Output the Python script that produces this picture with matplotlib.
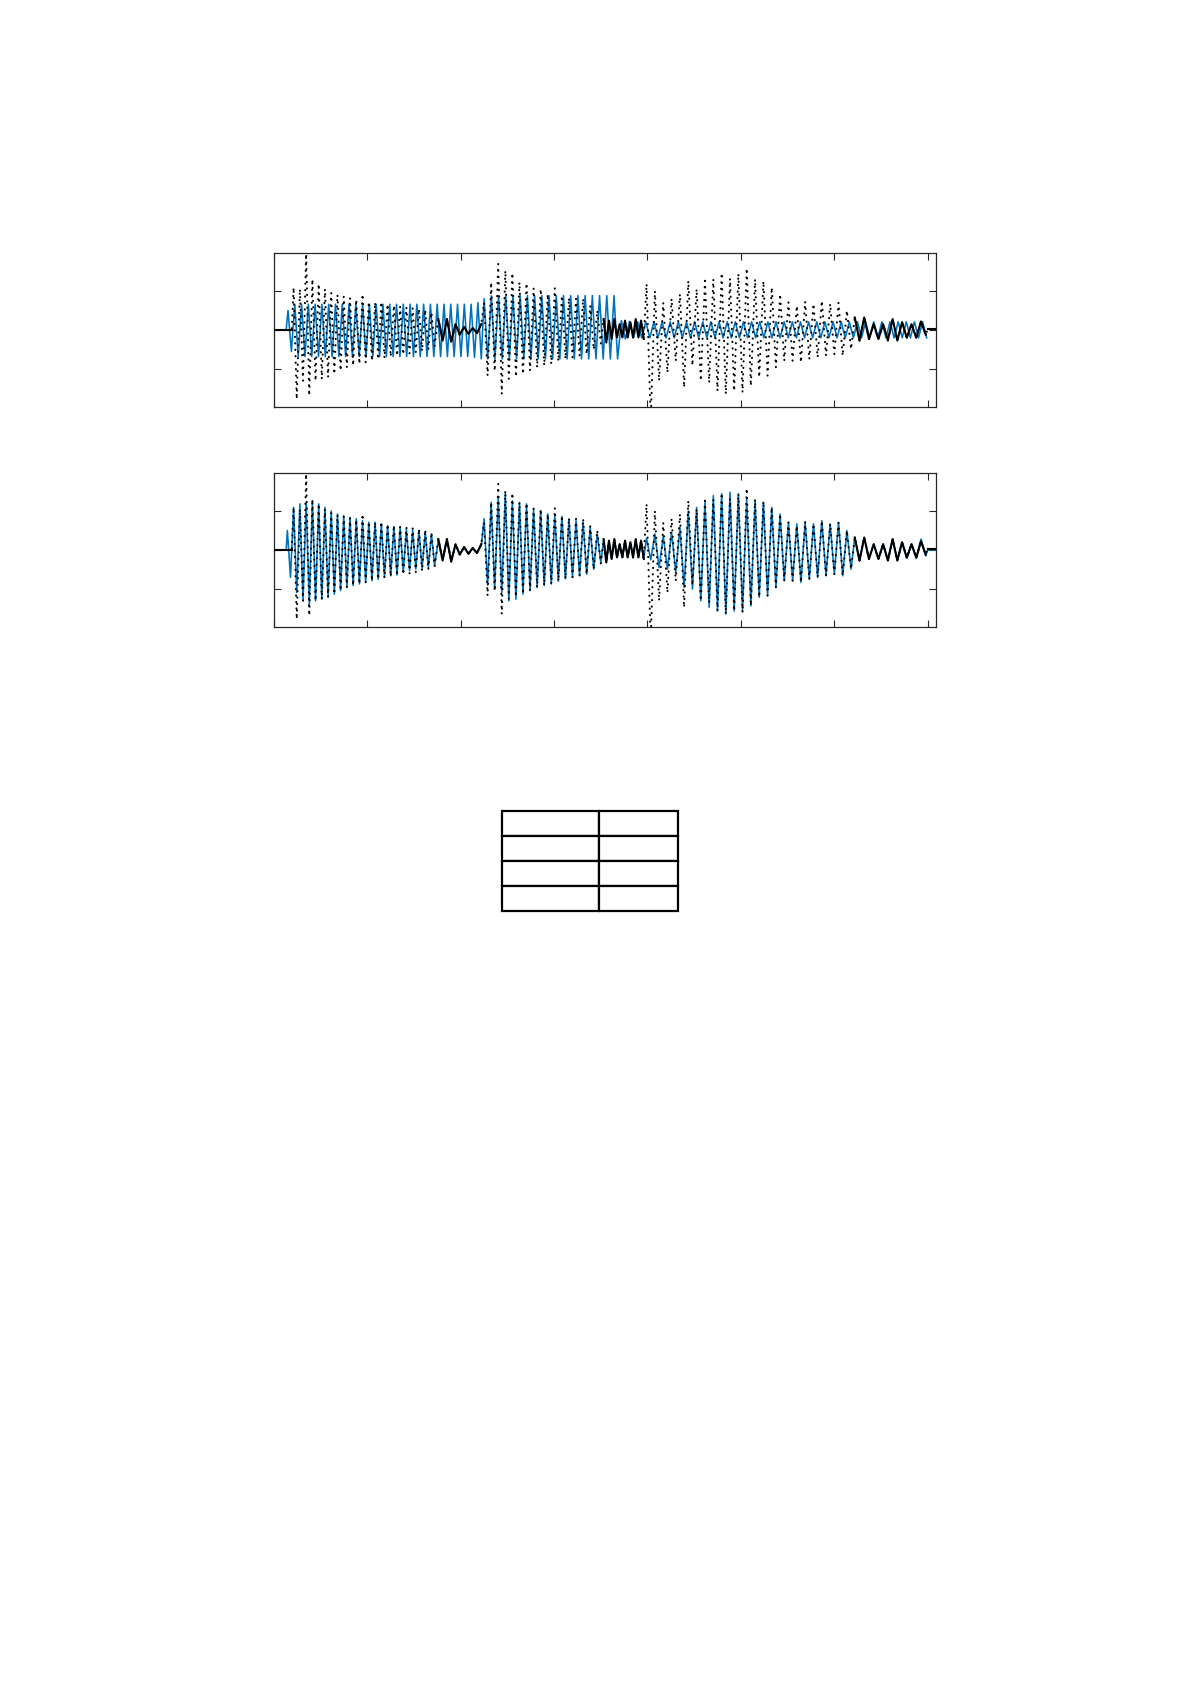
import numpy as np
import matplotlib
matplotlib.use("Agg")
import matplotlib.pyplot as plt

BLUE = "#0072BD"
FRAME = "#262626"

# --- measured signal (black dots), same in both panels ---
# each part: time span, then the peak / trough values read off the picture
black_flat0_span = (0.00, 0.19)
black_flat0 = [0.0, 0.0]

black_a_span = (0.21, 1.72)
black_a_up = [1.09, 1.05, 1.95, 1.30, 1.18, 1.05, 0.95, 0.90, 0.86, 0.82, 0.78, 0.92,
              0.72, 0.71, 0.72, 0.66, 0.63, 0.60, 0.58, 0.56, 0.54, 0.52, 0.45]
black_a_dn = [-1.77, -1.30, -1.68, -1.30, -1.26, -1.21, -1.13, -1.04, -0.96, -0.91, -0.87, -0.83,
              -0.79, -0.75, -0.72, -0.68, -0.66, -0.63, -0.60, -0.57, -0.54, -0.50, -0.42]
black_a_wob_span = (1.76, 2.22)
black_a_wob = [0.28, -0.27, 0.28, -0.30, 0.15, -0.12, 0.08, -0.10, 0.05, -0.08, 0.15]

black_b_span = (2.25, 3.50)
black_b_up = [0.70, 1.22, 1.69, 1.52, 1.46, 1.22, 1.20, 1.07, 1.05, 0.92, 1.07, 0.88,
              0.82, 0.80, 0.80, 0.62, 0.50]
black_b_dn = [-1.17, -1.05, -1.64, -1.25, -1.20, -1.13, -1.04, -0.96, -0.91, -0.87, -0.80, -0.74,
              -0.70, -0.66, -0.62, -0.50, -0.35]
black_b_wob_span = (3.53, 3.96)
black_b_wob_up = [0.28, 0.24, 0.28, 0.15, 0.24, 0.20, 0.28, 0.24]
black_b_wob_dn = [-0.32, -0.23, -0.19, -0.19, -0.19, -0.19, -0.19, -0.23]

black_c_span = (3.99, 6.18)
black_c_up = [1.18, 1.00, 0.70, 0.80, 0.92, 1.26, 1.05, 1.26, 1.30, 1.46, 1.32, 1.44, 1.58,
              1.30, 1.25, 1.09, 0.92, 0.71, 0.62, 0.73, 0.67, 0.75, 0.67, 0.70, 0.50]
black_c_dn = [-2.30, -1.30, -1.09, -0.79, -1.47, -0.91, -1.30, -1.35, -1.56, -1.64, -1.56, -1.60, -1.43,
              -1.21, -1.17, -0.96, -0.79, -0.79, -0.83, -0.75, -0.70, -0.66, -0.62, -0.66, -0.49]
black_c_wob_span = (6.22, 6.98)
black_c_wob_up = [0.32, 0.32, 0.15, 0.15, 0.28, 0.20, 0.15, 0.22]
black_c_wob_dn = [-0.27, -0.23, -0.23, -0.27, -0.27, -0.20, -0.20, -0.12]
black_end_span = (7.00, 7.09)
black_end = [0.02, 0.02]

# --- model 1 (top panel, blue) ---
blue1_flat_span = (0.00, 0.13)
blue1_flat = [0.0, 0.0]
blue1_a_span = (0.15, 2.22)
blue1_a_up = [0.50, 0.66, 0.66, 0.66, 0.66, 0.66, 0.66, 0.66, 0.66, 0.66, 0.66, 0.66, 0.66, 0.66, 0.66,
              0.66, 0.66, 0.66, 0.66, 0.66, 0.66, 0.66, 0.66, 0.66, 0.66, 0.66, 0.66, 0.66, 0.70]
blue1_a_dn = [-0.55, -0.68, -0.68, -0.68, -0.68, -0.68, -0.68, -0.68, -0.68, -0.68, -0.68, -0.68, -0.68,
              -0.68, -0.68, -0.68, -0.68, -0.68, -0.68, -0.68, -0.68, -0.68, -0.68, -0.68, -0.68, -0.68,
              -0.68, -0.70, -0.74]
blue1_b_span = (2.25, 3.68)
blue1_b_up = [0.80, 0.88, 0.88, 0.88, 0.88, 0.88, 0.88, 0.88, 0.88, 0.88, 0.88, 0.88, 0.88, 0.88,
              0.88, 0.88, 0.88, 0.88, 0.88]
blue1_b_dn = [-0.74, -0.74, -0.74, -0.74, -0.74, -0.74, -0.74, -0.74, -0.74, -0.74, -0.74, -0.74,
              -0.74, -0.74, -0.74, -0.74, -0.74, -0.74, -0.74]
blue1_c_span = (3.72, 6.99)
blue1_c_up = [0.24, 0.22, 0.21, 0.21, 0.21, 0.21, 0.21, 0.21, 0.21, 0.21, 0.21, 0.21, 0.21,
              0.21, 0.21, 0.21, 0.21, 0.21, 0.21, 0.21, 0.21, 0.21, 0.21, 0.21, 0.21, 0.21,
              0.21, 0.21, 0.21, 0.21, 0.21, 0.21, 0.21, 0.21, 0.21, 0.21, 0.21, 0.21]
blue1_c_dn = [-0.23, -0.20, -0.20, -0.20, -0.20, -0.20, -0.20, -0.20, -0.20, -0.20, -0.20, -0.20, -0.20,
              -0.20, -0.20, -0.20, -0.20, -0.20, -0.20, -0.20, -0.20, -0.20, -0.20, -0.20, -0.20, -0.20,
              -0.20, -0.20, -0.20, -0.20, -0.20, -0.20, -0.20, -0.20, -0.20, -0.20, -0.20, -0.20]

# --- model 2 (bottom panel, blue) ---
blue2_flat_span = (0.00, 0.13)
blue2_flat = [0.0, 0.0]
blue2_a_span = (0.143, 1.72)
blue2_a_up = [0.50, 1.09, 1.18, 1.22, 1.26, 1.18, 1.09, 1.00, 0.92, 0.88, 0.84, 0.80,
              0.75, 0.71, 0.71, 0.67, 0.62, 0.60, 0.58, 0.53, 0.51, 0.50, 0.45, 0.41]
blue2_a_dn = [-0.70, -1.09, -1.30, -1.38, -1.30, -1.26, -1.21, -1.13, -1.04, -0.96, -0.91, -0.87,
              -0.83, -0.79, -0.75, -0.70, -0.66, -0.64, -0.57, -0.53, -0.49, -0.47, -0.45, -0.40]
blue2_a_wob = [0.25, -0.22, 0.25, -0.25, 0.12, -0.10, 0.07, -0.08, 0.04, -0.06, 0.12]
blue2_b_up = [0.80, 1.22, 1.35, 1.44, 1.26, 1.22, 1.18, 1.05, 1.00, 0.92, 0.88, 0.86,
              0.79, 0.75, 0.71, 0.58, 0.41]
blue2_b_dn = [-0.90, -1.00, -1.09, -1.30, -1.26, -1.13, -1.04, -0.96, -0.91, -0.87, -0.80, -0.74,
              -0.70, -0.66, -0.62, -0.49, -0.32]
blue2_b_wob_up = [0.25, 0.22, 0.25, 0.15, 0.22, 0.18, 0.25, 0.22]
blue2_b_wob_dn = [-0.28, -0.22, -0.18, -0.18, -0.18, -0.18, -0.18, -0.22]
blue2_c_up = [0.30, 0.41, 0.35, 0.45, 0.58, 1.00, 1.09, 1.22, 1.39, 1.44, 1.48, 1.44, 1.30,
              1.26, 1.22, 1.09, 0.92, 0.71, 0.67, 0.71, 0.67, 0.75, 0.67, 0.71, 0.50]
blue2_c_dn = [-0.25, -0.45, -0.49, -0.58, -0.96, -1.00, -1.30, -1.47, -1.56, -1.64, -1.56, -1.56, -1.43,
              -1.21, -1.17, -0.96, -0.79, -0.79, -0.83, -0.75, -0.70, -0.66, -0.62, -0.66, -0.49]
blue2_c_wob_up = [0.32, 0.32, 0.15, 0.15, 0.28, 0.20, 0.15, 0.28]
blue2_c_wob_dn = [-0.27, -0.23, -0.23, -0.27, -0.27, -0.20, -0.20, -0.15]
blue2_end = [0.0, 0.0]

# empty 4x2 table under the plots
table_cells = [["", ""], ["", ""], ["", ""], ["", ""]]


def weave(ups, dns):
    out = []
    for u, d in zip(ups, dns):
        out += [u, d]
    return out


def build(parts):
    xs, ys = [], []
    for (a, b), vals in parts:
        xs.append(np.linspace(a, b, len(vals)))
        ys.append(np.asarray(vals, dtype=float))
    return np.concatenate(xs), np.concatenate(ys)


black_parts = [
    (black_flat0_span, black_flat0),
    (black_a_span, weave(black_a_up, black_a_dn)),
    (black_a_wob_span, black_a_wob),
    (black_b_span, weave(black_b_up, black_b_dn)),
    (black_b_wob_span, weave(black_b_wob_up, black_b_wob_dn)),
    (black_c_span, weave(black_c_up, black_c_dn)),
    (black_c_wob_span, weave(black_c_wob_up, black_c_wob_dn)),
    (black_end_span, black_end),
]
# the slow / flat stretches look solid in the original (dots merge)
black_solid_parts = [black_parts[i] for i in (0, 2, 4, 6, 7)]

blue1_parts = [
    (blue1_flat_span, blue1_flat),
    (blue1_a_span, weave(blue1_a_up, blue1_a_dn)),
    (blue1_b_span, weave(blue1_b_up, blue1_b_dn)),
    (blue1_c_span, weave(blue1_c_up, blue1_c_dn)),
]
blue2_parts = [
    (blue2_flat_span, blue2_flat),
    (blue2_a_span, weave(blue2_a_up, blue2_a_dn)),
    (black_a_wob_span, blue2_a_wob),
    (black_b_span, weave(blue2_b_up, blue2_b_dn)),
    (black_b_wob_span, weave(blue2_b_wob_up, blue2_b_wob_dn)),
    (black_c_span, weave(blue2_c_up, blue2_c_dn)),
    (black_c_wob_span, weave(blue2_c_wob_up, blue2_c_wob_dn)),
    (black_end_span, blue2_end),
]

bx, by = build(black_parts)

fig = plt.figure(figsize=(11.91, 16.85), dpi=100)
W, H = 1191, 1685
ax1 = fig.add_axes([274 / W, 1 - 407 / H, 662 / W, 154 / H])
ax2 = fig.add_axes([274 / W, 1 - 627 / H, 662 / W, 154 / H])

for ax, model in ((ax1, blue1_parts), (ax2, blue2_parts)):
    mx, my = build(model)
    ax.plot(mx, my, color=BLUE, lw=1.15, zorder=2)
    ax.plot(bx, by, color="black", lw=1.5, linestyle=(0, (0.1, 3.0)),
            dash_capstyle="round", zorder=3)
    for span, vals in black_solid_parts:
        sx, sy = build([(span, vals)])
        ax.plot(sx, sy, color="black", lw=1.5, zorder=3)
    ax.set_xlim(0, 7.09)
    ax.set_ylim(-1.97, 1.97)
    ax.set_xticks(range(8))
    ax.set_yticks([-1, 0, 1])
    ax.tick_params(direction="in", length=5, width=0.8, color=FRAME,
                   top=True, right=True, labelbottom=False, labelleft=False)
    for s in ax.spines.values():
        s.set_linewidth(0.9)
        s.set_color(FRAME)

ax3 = fig.add_axes([502 / W, 1 - 911 / H, 176 / W, 100 / H])
ax3.axis("off")
tbl = ax3.table(cellText=table_cells, colWidths=[97 / 176, 79 / 176], bbox=[0, 0, 1, 1])
for cell in tbl.get_celld().values():
    cell.set_linewidth(1.6)
    cell.set_edgecolor("black")

fig.savefig("out.png", dpi=100)
